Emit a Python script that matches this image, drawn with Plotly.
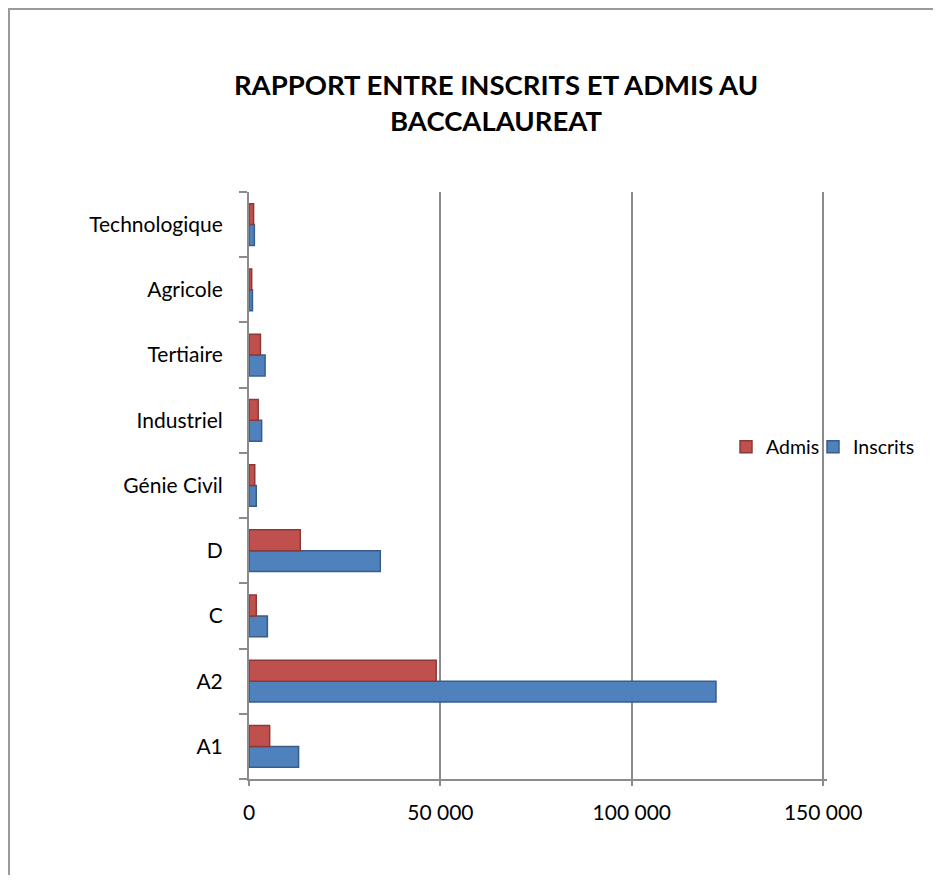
import plotly.graph_objects as go

# Data
categories = ["A1", "A2", "C", "D", "Génie Civil", "Industriel",
              "Tertiaire", "Agricole", "Technologique"]
inscrits = [12950, 122000, 4800, 34300, 1900, 3300, 4200, 900, 1400]
admis = [5400, 48900, 1900, 13400, 1500, 2400, 3000, 700, 1200]
x_ticks = [0, 50000, 100000, 150000]

COLORS = {
    "Inscrits": ("#4F81BD", "#385D8A"),
    "Admis": ("#C0504D", "#8C3836"),
}

# page body has an 8px margin, so the figure is placed at (8, 8)
OFF = 8
W, H = 941 - 2 * OFF, 883 - 2 * OFF
PLOT_L, PLOT_R, PLOT_T, PLOT_B = 249 - OFF, 827 - OFF, 192 - OFF, 779 - OFF


def px_to_paper(x=None, y=None):
    """Convert page pixels to paper coordinates of the plot area."""
    if x is not None:
        return (x - OFF - PLOT_L) / (PLOT_R - PLOT_L)
    return (PLOT_B - (y - OFF)) / (PLOT_B - PLOT_T)


fig = go.Figure()

# one legend per series so the pair fits without pushing the margin
series = (
    ("Inscrits", inscrits, "legend2"),
    ("Admis", admis, "legend"),
)
for name, values, legend_id in series:
    face, side = COLORS[name]
    fig.add_trace(go.Bar(
        y=categories,
        x=values,
        name=name,
        orientation="h",
        legend=legend_id,
        showlegend=True,
        marker=dict(color=face, line=dict(color=side, width=1.5)),
    ))

font = "Lato, Open Sans, sans-serif"


def legend_at(px_left):
    return dict(
        orientation="h",
        x=px_to_paper(x=px_left),
        xanchor="left",
        y=px_to_paper(y=447),
        yanchor="middle",
        font=dict(size=19.5),
        bgcolor="rgba(0,0,0,0)",
    )


fig.update_layout(
    width=W,
    height=H,
    margin=dict(l=PLOT_L, r=W - PLOT_R, t=PLOT_T, b=H - PLOT_B),
    paper_bgcolor="white",
    plot_bgcolor="white",
    showlegend=True,
    barmode="group",
    bargap=0.36,
    bargroupgap=0,
    separators=", ",
    font=dict(family=font, size=21, color="#000000"),
    title=dict(
        text="RAPPORT ENTRE INSCRITS ET ADMIS AU<br>BACCALAUREAT",
        x=(496 - OFF) / W,
        xanchor="center",
        y=1 - (95 - OFF) / H,
        yanchor="middle",
        font=dict(family=font, size=27.5, color="#000000", weight="bold"),
    ),
    legend=legend_at(726),
    legend2=legend_at(813),
    xaxis=dict(
        range=[0, 151000],
        tickvals=x_ticks,
        tickformat=",",
        showgrid=True,
        gridcolor="#8C8C8C",
        gridwidth=2,
        zeroline=False,
        showline=True,
        linecolor="#8C8C8C",
        linewidth=2,
        ticks="outside",
        ticklen=5,
        tickcolor="#8C8C8C",
        tickwidth=2,
        ticklabelstandoff=9,
    ),
    yaxis=dict(
        type="category",
        categoryorder="array",
        categoryarray=categories,
        showgrid=False,
        showline=True,
        linecolor="#8C8C8C",
        linewidth=2,
        ticks="outside",
        tickson="boundaries",
        ticklen=8,
        tickcolor="#8C8C8C",
        tickwidth=2,
        ticklabelstandoff=20,
    ),
    shapes=[
        # chart frame
        dict(
            type="rect",
            xref="paper",
            yref="paper",
            x0=px_to_paper(x=OFF + 1),
            x1=px_to_paper(x=960),
            y0=px_to_paper(y=900),
            y1=px_to_paper(y=OFF + 1),
            line=dict(color="#9A9A9A", width=2),
            layer="below",
        ),
    ],
)

fig.write_html("out.html")
